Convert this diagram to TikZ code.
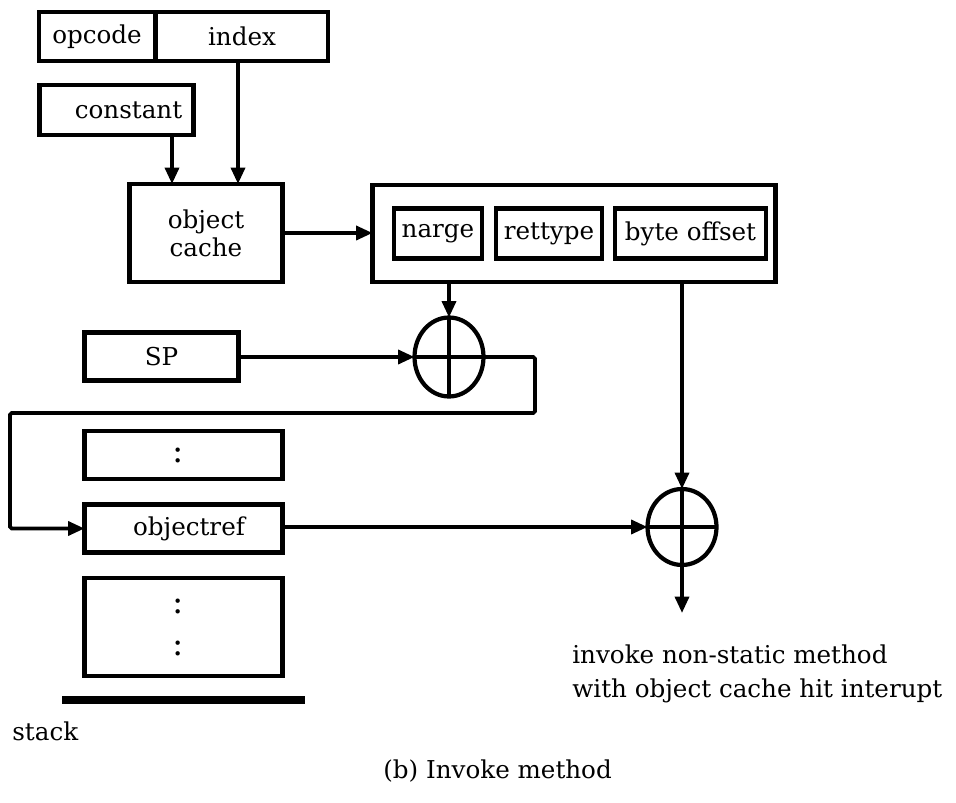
\documentclass[tikz,border=0pt]{standalone}
\usepackage{fontspec}
\setmainfont{DejaVu Serif}
\usetikzlibrary{arrows.meta,shapes.geometric}

\begin{document}
\begin{tikzpicture}[x=0.02cm,y=-0.02cm,
  font=\fontsize{14pt}{16pt}\selectfont,
  box/.style={draw,line width=2.4pt,inner sep=0pt,outer sep=0pt},
  ellip/.style={font=\fontsize{19pt}{21pt}\selectfont,inner sep=0pt},
  adder/.style={draw,ellipse,line width=2.4pt,inner sep=0pt,outer sep=0pt,
    minimum width=1.38cm,minimum height=1.58cm},
  conn/.style={line width=2.1pt,rounded corners=1pt,
    -{Triangle[length=0.33cm,width=0.28cm]}}]

\useasboundingbox (0,0) rectangle (956,803);

% instruction word
\node[box,minimum width=2.32cm,minimum height=0.98cm] (opcode) at (97,36.5) {opcode};
\node[box,minimum width=3.44cm,minimum height=0.98cm] (index) at (242,36.5) {index};
\node[box,minimum width=3.08cm,minimum height=1.0cm] (constant) at (116.5,110) {\hspace*{0.48cm}constant};

% object cache and its entry
\node[box,minimum width=3.06cm,minimum height=1.96cm,align=center] (cache) at (206,233) {object\\cache};
\node[box,minimum width=8.06cm,minimum height=1.94cm] (entry) at (574,233.5) {};
\node[box,minimum width=1.76cm,minimum height=1.0cm] (narge) at (438,233.5) {narge};
\node[box,minimum width=2.12cm,minimum height=1.0cm] (rettype) at (549,233.5) {rettype};
\node[box,minimum width=3.02cm,minimum height=1.0cm] (offset) at (690.5,233.5) {byte offset};

% stack pointer and stack
\node[box,minimum width=3.08cm,minimum height=0.96cm] (sp) at (161.5,356.5) {SP};
\node[box,minimum width=3.96cm,minimum height=0.96cm] (slotA) at (183.5,455) {};
\node[box,minimum width=3.96cm,minimum height=0.96cm] (objref) at (183.5,528.5) {\hspace*{0.22cm}objectref};
\node[box,minimum width=3.96cm,minimum height=1.96cm] (slotB) at (183.5,627) {};
\node[ellip] (colA) at (178,455) {:};
\node[ellip] (colB) at (178,606) {:};
\node[ellip] (colC) at (178,648) {:};
\draw[line width=4.6pt] (62,700) coordinate (baseL) -- (305,700) coordinate (baseR);
\node[anchor=base west,inner sep=0pt] (stacklbl) at (12,740) {stack};

% adders
\node[adder] (sumA) at (449,357) {};
\draw[line width=2.1pt] (sumA.north) -- (sumA.south) (sumA.west) -- (sumA.east);
\node[adder,minimum height=1.52cm] (sumB) at (682,527) {};
\draw[line width=2.1pt] (sumB.north) -- (sumB.south) (sumB.west) -- (sumB.east);

% connectors
\draw[conn] ([xshift=1.11cm]constant.south) -- ([xshift=1.11cm]constant.south |- cache.north);
\draw[conn] ([xshift=-0.08cm]index.south) -- ([xshift=-0.08cm]index.south |- cache.north);
\draw[conn] (cache.east) -- (entry.west |- cache.east);
\draw[conn] (sumA.north |- entry.south) -- (sumA.north);
\draw[conn] (sumB.north |- entry.south) -- (sumB.north);
\draw[conn] (sp.east |- sumA.west) -- (sumA.west);
\coordinate (loopR) at (535,413);
\coordinate (loopL) at (10,413);
\draw[conn] (sumA.east) -- (sumA.east -| loopR) -- (loopR) -- (loopL) -- (loopL |- objref.west) -- (objref.west);
\draw[conn] (objref.east |- sumB.west) -- (sumB.west);
\coordinate (result) at (682,613);
\draw[conn] (sumB.south) -- (result);

% annotations
\node[anchor=base west,inner sep=0pt] (note1) at (572,663) {invoke non-static method};
\node[anchor=base west,inner sep=0pt] (note2) at (572,697) {with object cache hit interupt};
\node[anchor=base west,inner sep=0pt] (caption) at (383,778) {(b) Invoke method};
\end{tikzpicture}
\end{document}
